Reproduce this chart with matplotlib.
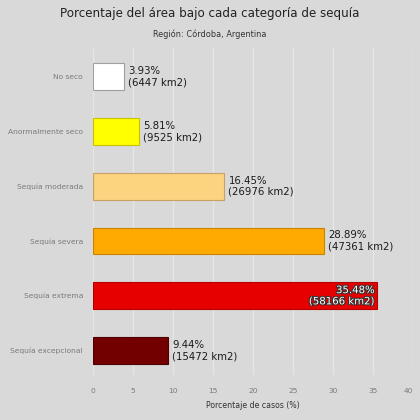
import numpy as np
import matplotlib.pyplot as plt
import matplotlib.patheffects as pe

categorias = ["No seco", "Anormalmente seco", "Sequía moderada",
              "Sequía severa", "Sequía extrema", "Sequía excepcional"]
porcentajes = [3.93, 5.81, 16.45, 28.89, 35.48, 9.44]
areas_km2 = [6447, 9525, 26976, 47361, 58166, 15472]
colores = ["#ffffff", "#ffff00", "#fcd37f", "#ffaa00", "#e60000", "#730000"]
bordes = ["#a0a0a0", "#c8c000", "#c8a060", "#c88400", "#b40000", "#500000"]
xticks = np.arange(0, 45, 5)

bg = "#d9d9d9"
fig = plt.figure(figsize=(4.2, 4.2), dpi=100, facecolor=bg)
ax = fig.add_axes([0.2207, 0.107, 0.7626, 0.779], facecolor=bg)

y = np.arange(len(categorias))
ax.barh(y, porcentajes, height=0.49, color=colores, edgecolor=bordes,
        linewidth=0.8, zorder=3)

for i, (p, a) in enumerate(zip(porcentajes, areas_km2)):
    txt = f"{p:.2f}%\n({a} km2)"
    if p > 33:
        ax.text(p - 0.3, i, txt, ha="right", va="center", fontsize=7.3,
                color="white", zorder=4, linespacing=1.15,
                path_effects=[pe.withStroke(linewidth=1.5, foreground="#333333")])
    else:
        ax.text(p + 0.5, i, txt, ha="left", va="center", fontsize=7.3,
                color="#1a1a1a", zorder=4, linespacing=1.15)

ax.set_xlim(0, 40)
ax.set_ylim(5.45, -0.53)
ax.set_xticks(xticks)
ax.set_yticks(y)
ax.set_yticklabels(categorias)
ax.tick_params(axis="both", length=0, labelsize=5.4, labelcolor="#7a7a7a")
ax.tick_params(axis="x", pad=9)
ax.tick_params(axis="y", pad=7)
ax.get_xticklabels()[-1].set_horizontalalignment("right")
ax.grid(axis="x", color="#e6e6e6", linewidth=1, zorder=0)
for s in ax.spines.values():
    s.set_visible(False)

ax.set_xlabel("Porcentaje de casos (%)", fontsize=5.6, color="#333333", labelpad=5)
fig.text(0.5, 0.969, "Porcentaje del área bajo cada categoría de sequía",
         ha="center", va="center", fontsize=8.6, color="#222222")
fig.text(0.5, 0.919, "Región: Córdoba, Argentina", ha="center", va="center",
         fontsize=5.9, color="#333333")

fig.savefig("out.png", dpi=100, facecolor=bg)
